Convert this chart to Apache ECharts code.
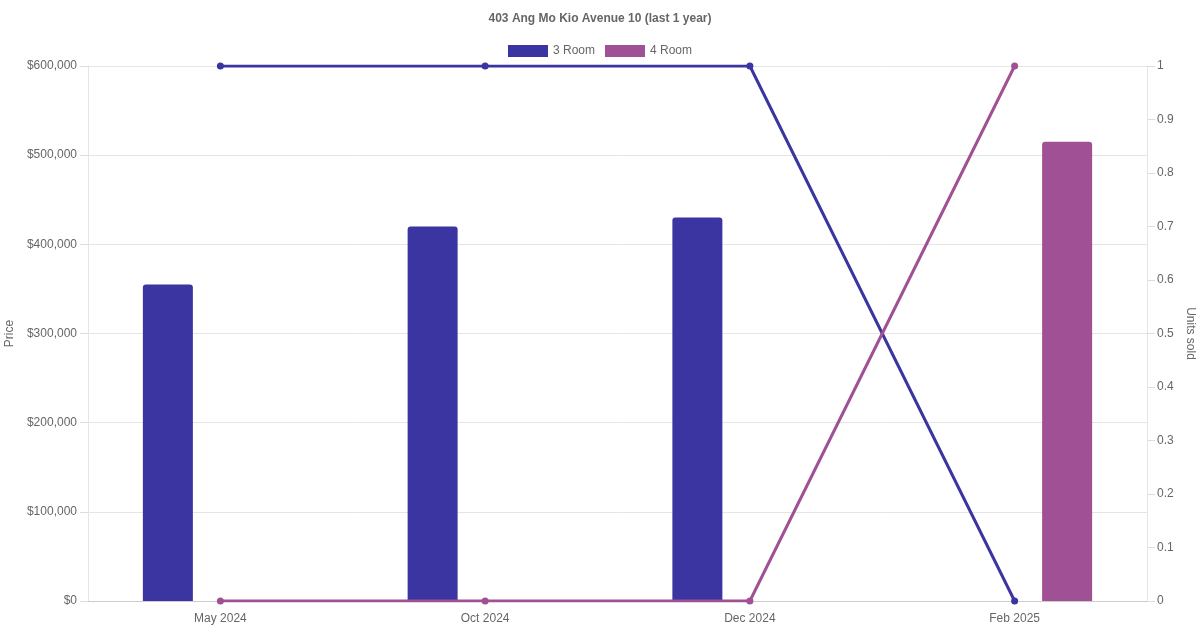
<!DOCTYPE html>
<html>
<head>
<meta charset="utf-8">
<script src="https://cdn.jsdelivr.net/npm/echarts@6/dist/echarts.min.js"></script>
<style>html,body{margin:0;padding:0;background:#fff}#c{width:1200px;height:630px}</style>
</head>
<body>
<div id="c"></div>
<script>
const categories = ['May 2024', 'Oct 2024', 'Dec 2024', 'Feb 2025'];
const price3Room = [355000, 420000, 430000, null];
const price4Room = [null, null, null, 515000];
const units3Room = [1, 1, 1, 0];
const units4Room = [0, 0, 0, 1];
const titleText = '403 Ang Mo Kio Avenue 10 (last 1 year)';

const C3 = '#3a35a0';
const C4 = '#a05094';
const FONT = '"Liberation Sans", Arial, Helvetica, sans-serif';
const GRID = '#e5e5e5';
const TXT = '#666';

const chart = echarts.init(document.getElementById('c'));
chart.setOption({
  animation: false,
  textStyle: { fontFamily: FONT },
  title: {
    text: titleText, left: 'center', top: 8,
    textStyle: { fontSize: 12, fontWeight: 'bold', color: TXT, fontFamily: FONT }
  },
  legend: {
    top: 40, left: 'center', icon: 'rect', itemWidth: 40, itemHeight: 12, itemGap: 10,
    data: ['3 Room', '4 Room'],
    textStyle: { fontSize: 12, color: TXT, fontFamily: FONT }
  },
  grid: { left: 88, right: 53, top: 66, bottom: 29, containLabel: false, outerBoundsMode: 'none' },
  xAxis: {
    type: 'category', data: categories, boundaryGap: true,
    axisLine: { show: true, lineStyle: { color: '#ccc' } },
    axisTick: { show: false },
    splitLine: { show: false },
    axisLabel: { color: TXT, fontSize: 12, margin: 12, fontFamily: FONT }
  },
  yAxis: [
    {
      type: 'value', min: 0, max: 600000, interval: 100000,
      name: 'Price', nameLocation: 'middle', nameGap: 68, nameRotate: 90,
      nameTextStyle: { color: TXT, fontSize: 12, fontFamily: FONT },
      axisLine: { show: true, lineStyle: { color: GRID } },
      axisTick: { show: true, length: 8, lineStyle: { color: '#ddd' } },
      splitLine: { show: true, lineStyle: { color: GRID } },
      axisLabel: {
        color: TXT, fontSize: 12, margin: 11, fontFamily: FONT, padding: [3, 0, 0, 0],
        formatter: v => '$' + v.toLocaleString('en-US')
      }
    },
    {
      type: 'value', min: 0, max: 1, interval: 0.1, position: 'right',
      name: 'Units sold', nameLocation: 'middle', nameGap: 34, nameRotate: -90,
      nameTextStyle: { color: TXT, fontSize: 12, fontFamily: FONT },
      axisLine: { show: true, lineStyle: { color: GRID } },
      axisTick: { show: true, length: 8, lineStyle: { color: '#ddd' } },
      splitLine: { show: false },
      axisLabel: {
        color: TXT, fontSize: 12, margin: 10, fontFamily: FONT, padding: [3, 0, 0, 0],
        formatter: v => String(Math.round(v * 10) / 10)
      }
    }
  ],
  series: [
    {
      name: '3 Room', type: 'bar', data: price3Room, yAxisIndex: 0,
      barWidth: 50, barGap: '110%',
      itemStyle: { color: C3, borderRadius: [3, 3, 0, 0] }, z: 2
    },
    {
      name: '4 Room', type: 'bar', data: price4Room, yAxisIndex: 0,
      barWidth: 50, barGap: '110%',
      itemStyle: { color: C4, borderRadius: [3, 3, 0, 0] }, z: 2
    },
    {
      name: '3 Room', type: 'line', data: units3Room, yAxisIndex: 1,
      symbol: 'circle', symbolSize: 7, showSymbol: true,
      lineStyle: { color: C3, width: 3 }, itemStyle: { color: C3 }, z: 5
    },
    {
      name: '4 Room', type: 'line', data: units4Room, yAxisIndex: 1,
      symbol: 'circle', symbolSize: 7, showSymbol: true,
      lineStyle: { color: C4, width: 3 }, itemStyle: { color: C4 }, z: 5
    }
  ]
});
</script>
</body>
</html>
